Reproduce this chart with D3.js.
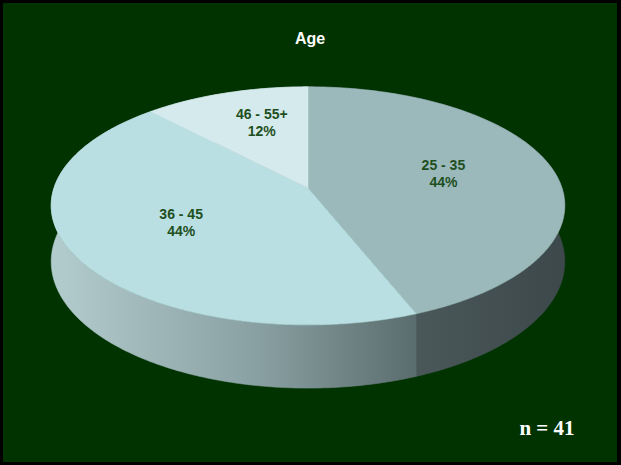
<!DOCTYPE html>
<html>
<head>
<meta charset="utf-8">
<script src="https://cdn.jsdelivr.net/npm/d3@7"></script>
<style>
  html, body { margin: 0; padding: 0; background: #000; }
  svg { display: block; }
</style>
</head>
<body>
<svg id="chart" width="621" height="465"></svg>
<script>
// ---- data ----
const title = "Age";
const categories = ["25 - 35", "36 - 45", "46 - 55+"];
const values = [18, 18, 5];
const percentLabels = ["44%", "44%", "12%"];
const note = "n = 41";

// ---- styles ----
const topColors = ["#9bb9bb", "#b9dfe3", "#d5eaec"];
const sideColors = ["url(#sideGrad2)", "url(#sideGrad)", "#9fb3b5"];
const labelR = [0.56, 0.56, 0.6];
const labelShift = [[-2, -2], [-2, -3], [6, -4]];

const W = 621, H = 465;
const svg = d3.select("#chart");

svg.append("rect").attr("x", 0).attr("y", 0).attr("width", W).attr("height", H).attr("fill", "#000");
svg.append("rect").attr("x", 3).attr("y", 3).attr("width", 614).attr("height", 459).attr("fill", "#003300");

const defs = svg.append("defs");
const g1 = defs.append("linearGradient").attr("id", "sideGrad")
  .attr("gradientUnits", "userSpaceOnUse").attr("x1", 55).attr("x2", 418).attr("y1", 0).attr("y2", 0);
g1.append("stop").attr("offset", "0%").attr("stop-color", "#b2cbcd");
g1.append("stop").attr("offset", "55%").attr("stop-color", "#8aa1a3");
g1.append("stop").attr("offset", "100%").attr("stop-color", "#5a6c6d");

const g2 = defs.append("linearGradient").attr("id", "sideGrad2")
  .attr("gradientUnits", "userSpaceOnUse").attr("x1", 415).attr("x2", 565).attr("y1", 0).attr("y2", 0);
g2.append("stop").attr("offset", "0%").attr("stop-color", "#4b5859");
g2.append("stop").attr("offset", "100%").attr("stop-color", "#3c4849");

// ---- 3D pie geometry ----
const cx = 308, cy = 188, R = 254, ry = 119, depth = 55, k = 0.15;
function proj(theta, r, h) {
  const X = r * Math.sin(theta), Z = -r * Math.cos(theta);
  const f = 1 + k * Z;
  return [cx + R * X * f, cy + (ry * Z + h) * f];
}

const pie = d3.pie().sort(null).value(d => d)
  .startAngle(0).endAngle(2 * Math.PI);
const arcs = pie(values);

function arcPoints(a0, a1, h) {
  const n = Math.max(2, Math.ceil((a1 - a0) / 0.01));
  const pts = [];
  for (let i = 0; i <= n; i++) pts.push(proj(a0 + (a1 - a0) * i / n, 1, h));
  return pts;
}
const line = d3.line();

// sides
arcs.forEach((a, i) => {
  const top = arcPoints(a.startAngle, a.endAngle, 0);
  const bot = arcPoints(a.startAngle, a.endAngle, depth).reverse();
  svg.append("path")
    .attr("d", line(top.concat(bot)) + "Z")
    .attr("fill", sideColors[i])
    .attr("stroke", sideColors[i]).attr("stroke-width", 0.6);
});

// tops
arcs.forEach((a, i) => {
  const pts = [proj(0, 0, 0)].concat(arcPoints(a.startAngle, a.endAngle, 0));
  svg.append("path")
    .attr("d", line(pts) + "Z")
    .attr("fill", topColors[i])
    .attr("stroke", topColors[i]).attr("stroke-width", 0.6);
});

// labels
const labelG = svg.append("g")
  .attr("font-family", "'Liberation Sans', Arial, sans-serif")
  .attr("font-weight", "bold").attr("font-size", 14)
  .attr("fill", "#1f4f1f").attr("text-anchor", "middle");
arcs.forEach((a, i) => {
  const mid = (a.startAngle + a.endAngle) / 2;
  const [px, py] = proj(mid, labelR[i], 0);
  const x = px + labelShift[i][0], y = py + labelShift[i][1];
  labelG.append("text").attr("x", x).attr("y", y - 4).text(categories[i]);
  labelG.append("text").attr("x", x).attr("y", y + 13).text(percentLabels[i]);
});

// title
svg.append("text").attr("x", 310).attr("y", 44)
  .attr("text-anchor", "middle")
  .attr("font-family", "'Liberation Sans', Arial, sans-serif")
  .attr("font-weight", "bold").attr("font-size", 16)
  .attr("fill", "#fff").text(title);

// n note
svg.append("text").attr("x", 547).attr("y", 435)
  .attr("text-anchor", "middle")
  .attr("font-family", "'Liberation Serif', 'Times New Roman', serif")
  .attr("font-weight", "bold").attr("font-size", 21)
  .attr("fill", "#fff").text(note);
</script>
</body>
</html>
